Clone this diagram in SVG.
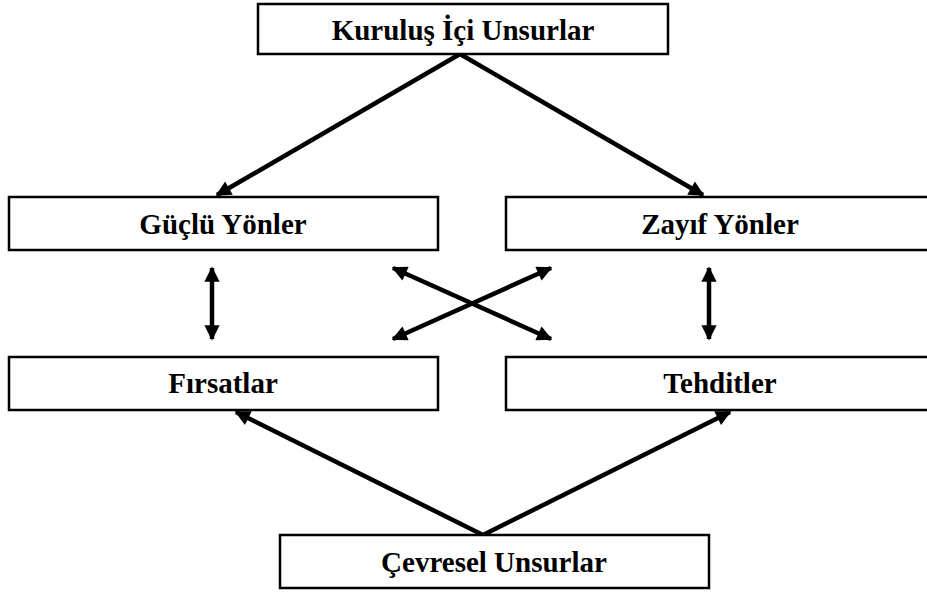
<svg xmlns="http://www.w3.org/2000/svg" width="927" height="593" viewBox="0 0 927 593">
<style>
.box{fill:#fff;stroke:#000;stroke-width:2.5}
.lbl{font-family:"Liberation Serif","Times New Roman",serif;font-weight:bold;font-size:29px;text-anchor:middle;fill:#000}
.ln{stroke:#000;stroke-width:4.5;fill:none}
</style>
<defs>
<marker id="ah" viewBox="0 0 10 10" refX="9" refY="5" markerWidth="4" markerHeight="3.4" orient="auto-start-reverse" markerUnits="strokeWidth">
<path d="M0,0 L10,5 L0,10 z" fill="#000"/>
</marker>
</defs>
<g id="connectors">
<line class="ln" x1="460" y1="54" x2="217" y2="195" marker-end="url(#ah)"/>
<line class="ln" x1="460" y1="54" x2="703" y2="195" marker-end="url(#ah)"/>
<line class="ln" x1="483" y1="535" x2="236" y2="412" marker-end="url(#ah)"/>
<line class="ln" x1="483" y1="535" x2="730" y2="412" marker-end="url(#ah)"/>
<line class="ln" x1="212" y1="268" x2="212" y2="339" marker-start="url(#ah)" marker-end="url(#ah)"/>
<line class="ln" x1="709" y1="268" x2="709" y2="339" marker-start="url(#ah)" marker-end="url(#ah)"/>
<line class="ln" x1="393" y1="268" x2="551" y2="339" marker-start="url(#ah)" marker-end="url(#ah)"/>
<line class="ln" x1="551" y1="268" x2="393" y2="339" marker-start="url(#ah)" marker-end="url(#ah)"/>
</g>
<g id="kurulus"><rect class="box" x="258" y="4" width="410" height="50"/><text class="lbl" x="463" y="40">Kuruluş İçi Unsurlar</text></g>
<g id="guclu"><rect class="box" x="9" y="197" width="429" height="53"/><text class="lbl" x="223" y="234">Güçlü Yönler</text></g>
<g id="zayif"><rect class="box" x="506" y="197" width="430" height="53"/><text class="lbl" x="720" y="234">Zayıf Yönler</text></g>
<g id="firsatlar"><rect class="box" x="9" y="357" width="429" height="53"/><text class="lbl" x="223" y="393">Fırsatlar</text></g>
<g id="tehditler"><rect class="box" x="506" y="357" width="430" height="53"/><text class="lbl" x="720" y="393">Tehditler</text></g>
<g id="cevresel"><rect class="box" x="280" y="535" width="429" height="53"/><text class="lbl" x="494" y="572">Çevresel Unsurlar</text></g>
</svg>
